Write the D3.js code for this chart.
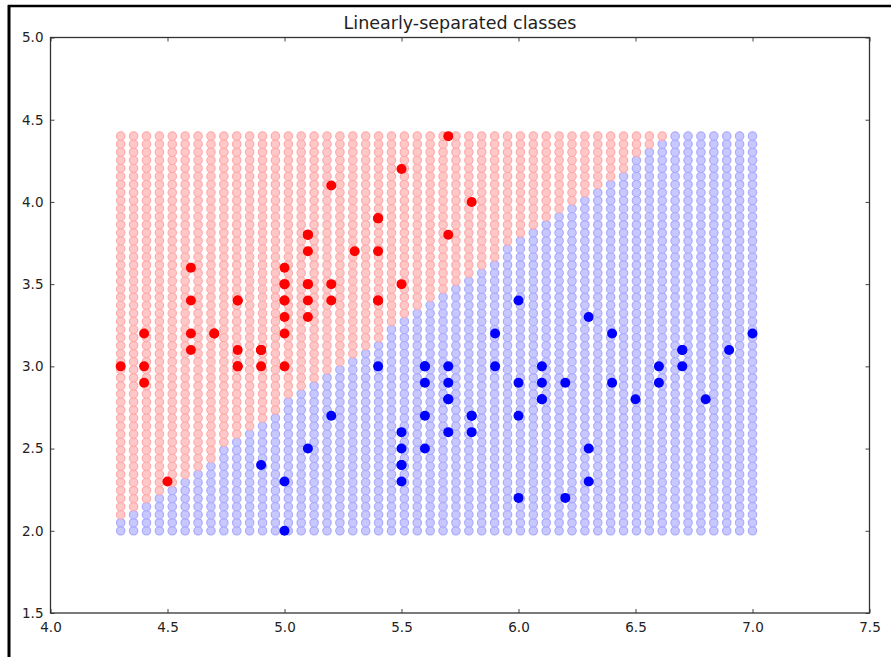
<!DOCTYPE html>
<html>
<head>
<meta charset="utf-8">
<script src="https://cdn.jsdelivr.net/npm/d3@7"></script>
<style>
body { margin: 0; background: #fff; }
text { font-family: "DejaVu Sans", sans-serif; }
</style>
</head>
<body>
<svg id="chart" width="891" height="657"></svg>
<script>
/*DATA*/
// class 0 (red): sepal length / sepal width
var redX = [5.1,4.9,4.7,4.6,5.0,5.4,4.6,5.0,4.4,4.9,5.4,4.8,4.8,4.3,5.8,5.7,5.4,5.1,5.7,5.1,5.4,5.1,4.6,5.1,4.8,5.0,5.0,5.2,5.2,4.7,4.8,5.4,5.2,5.5,4.9,5.0,5.5,4.9,4.4,5.1,5.0,4.5,4.4,5.0,5.1,4.8,5.1,4.6,5.3,5.0];
var redY = [3.5,3.0,3.2,3.1,3.6,3.9,3.4,3.4,2.9,3.1,3.7,3.4,3.0,3.0,4.0,4.4,3.9,3.5,3.8,3.8,3.4,3.7,3.6,3.3,3.4,3.0,3.4,3.5,3.4,3.2,3.1,3.4,4.1,4.2,3.1,3.2,3.5,3.1,3.0,3.4,3.5,2.3,3.2,3.5,3.8,3.0,3.8,3.2,3.7,3.3];
// class 1 (blue)
var blueX = [7.0,6.4,6.9,5.5,6.5,5.7,6.3,4.9,6.6,5.2,5.0,5.9,6.0,6.1,5.6,6.7,5.6,5.8,6.2,5.6,5.9,6.1,6.3,6.1,6.4,6.6,6.8,6.7,6.0,5.7,5.5,5.5,5.8,6.0,5.4,6.0,6.7,6.3,5.6,5.5,5.5,6.1,5.8,5.0,5.6,5.7,5.7,6.2,5.1,5.7];
var blueY = [3.2,3.2,3.1,2.3,2.8,2.8,3.3,2.4,2.9,2.7,2.0,3.0,2.2,2.9,2.9,3.1,3.0,2.7,2.2,2.5,3.2,2.8,2.5,2.8,2.9,3.0,2.8,3.0,2.9,2.6,2.4,2.4,2.7,2.7,3.0,3.4,3.1,2.3,3.0,2.5,2.6,3.0,2.6,2.3,2.7,3.0,2.9,2.9,2.5,2.8];

// mesh of the decision regions
var meshX = [4.3, 7.0];
var meshY = [2.0, 4.4];
var meshN = 50;
// per mesh column: how many rows (from the bottom) are predicted blue
var blueRows = [2,3,4,5,6,7,8,9,11,12,13,14,15,17,18,19,20,21,22,23,
                24,26,27,28,29,30,31,32,33,34,36,37,38,39,40,41,42,43,44,45,
                47,48,49,50,50,50,50,50,50,50];

var xTicks = [4.0,4.5,5.0,5.5,6.0,6.5,7.0,7.5];
var yTicks = [1.5,2.0,2.5,3.0,3.5,4.0,4.5,5.0];
var title = "Linearly-separated classes";

var svg = d3.select("#chart");

// screenshot frame
svg.append("line").attr("x1", 9).attr("x2", 9).attr("y1", 5).attr("y2", 657)
  .attr("stroke", "#000").attr("stroke-width", 3);
svg.append("line").attr("x1", 8).attr("x2", 891).attr("y1", 6).attr("y2", 6)
  .attr("stroke", "#000").attr("stroke-width", 2.5);

var axLeft = 50.5, axRight = 869.5, axTop = 37.5, axBottom = 613;

var x = d3.scaleLinear().domain([4.0, 7.5]).range([axLeft, axRight]);
var y = d3.scaleLinear().domain([1.5, 5.0]).range([axBottom, axTop]);

// mesh points
var colsX = d3.range(meshN).map(function(i){ return meshX[0] + i*(meshX[1]-meshX[0])/(meshN-1); });
var rowsY = d3.range(meshN).map(function(j){ return meshY[0] + j*(meshY[1]-meshY[0])/(meshN-1); });
var mesh = [];
rowsY.forEach(function(yy, j){
  colsX.forEach(function(xx, i){
    mesh.push({x: xx, y: yy, c: j < blueRows[i] ? 1 : 0});
  });
});

var g = svg.append("g");

g.selectAll(".mesh")
    .data(mesh)
  .enter().append("circle")
    .attr("class", "mesh")
    .attr("cx", function(d){ return x(d.x); })
    .attr("cy", function(d){ return y(d.y); })
    .attr("r", 4.2)
    .attr("fill", function(d){ return d.c ? "#c8c8ff" : "#ffc8c8"; })
    .attr("stroke", function(d){ return d.c ? "#aaaaff" : "#ffaaaa"; })
    .attr("stroke-width", 1.2);

var pts = redX.map(function(v, i){ return {x: v, y: redY[i], c: 0}; })
  .concat(blueX.map(function(v, i){ return {x: v, y: blueY[i], c: 1}; }));

g.selectAll(".pt")
    .data(pts)
  .enter().append("circle")
    .attr("class", "pt")
    .attr("cx", function(d){ return x(d.x); })
    .attr("cy", function(d){ return y(d.y); })
    .attr("r", 5)
    .attr("fill", function(d){ return d.c ? "#0000ff" : "#ff0000"; });

// axes (ticks point inward on all four sides)
function styleAxis(sel){
  sel.select(".domain").remove();
  sel.selectAll(".tick line").attr("stroke", "#444");
  sel.selectAll(".tick text").attr("fill", "#222").style("font-size", "13.5px")
    .style("font-family", "'DejaVu Sans', sans-serif");
}

svg.append("g").attr("transform", "translate(0," + axBottom + ")")
  .call(d3.axisBottom(x).tickValues(xTicks).tickFormat(d3.format(".1f")).tickSizeInner(-4).tickSizeOuter(0).tickPadding(9))
  .call(styleAxis);
svg.append("g").attr("transform", "translate(0," + axTop + ")")
  .call(d3.axisTop(x).tickValues(xTicks).tickFormat("").tickSizeInner(-4).tickSizeOuter(0))
  .call(styleAxis);
svg.append("g").attr("transform", "translate(" + axLeft + ",0)")
  .call(d3.axisLeft(y).tickValues(yTicks).tickFormat(d3.format(".1f")).tickSizeInner(-4).tickSizeOuter(0).tickPadding(7))
  .call(styleAxis);
svg.append("g").attr("transform", "translate(" + axRight + ",0)")
  .call(d3.axisRight(y).tickValues(yTicks).tickFormat("").tickSizeInner(-4).tickSizeOuter(0))
  .call(styleAxis);

// spines
svg.append("rect")
  .attr("x", axLeft).attr("y", axTop)
  .attr("width", axRight - axLeft).attr("height", axBottom - axTop)
  .attr("fill", "none").attr("stroke", "#333").attr("stroke-width", 1.3);

svg.append("text")
  .attr("x", (axLeft + axRight)/2).attr("y", 29)
  .attr("text-anchor", "middle")
  .attr("fill", "#222")
  .style("font-size", "17.5px")
  .text(title);
</script>
</body>
</html>
